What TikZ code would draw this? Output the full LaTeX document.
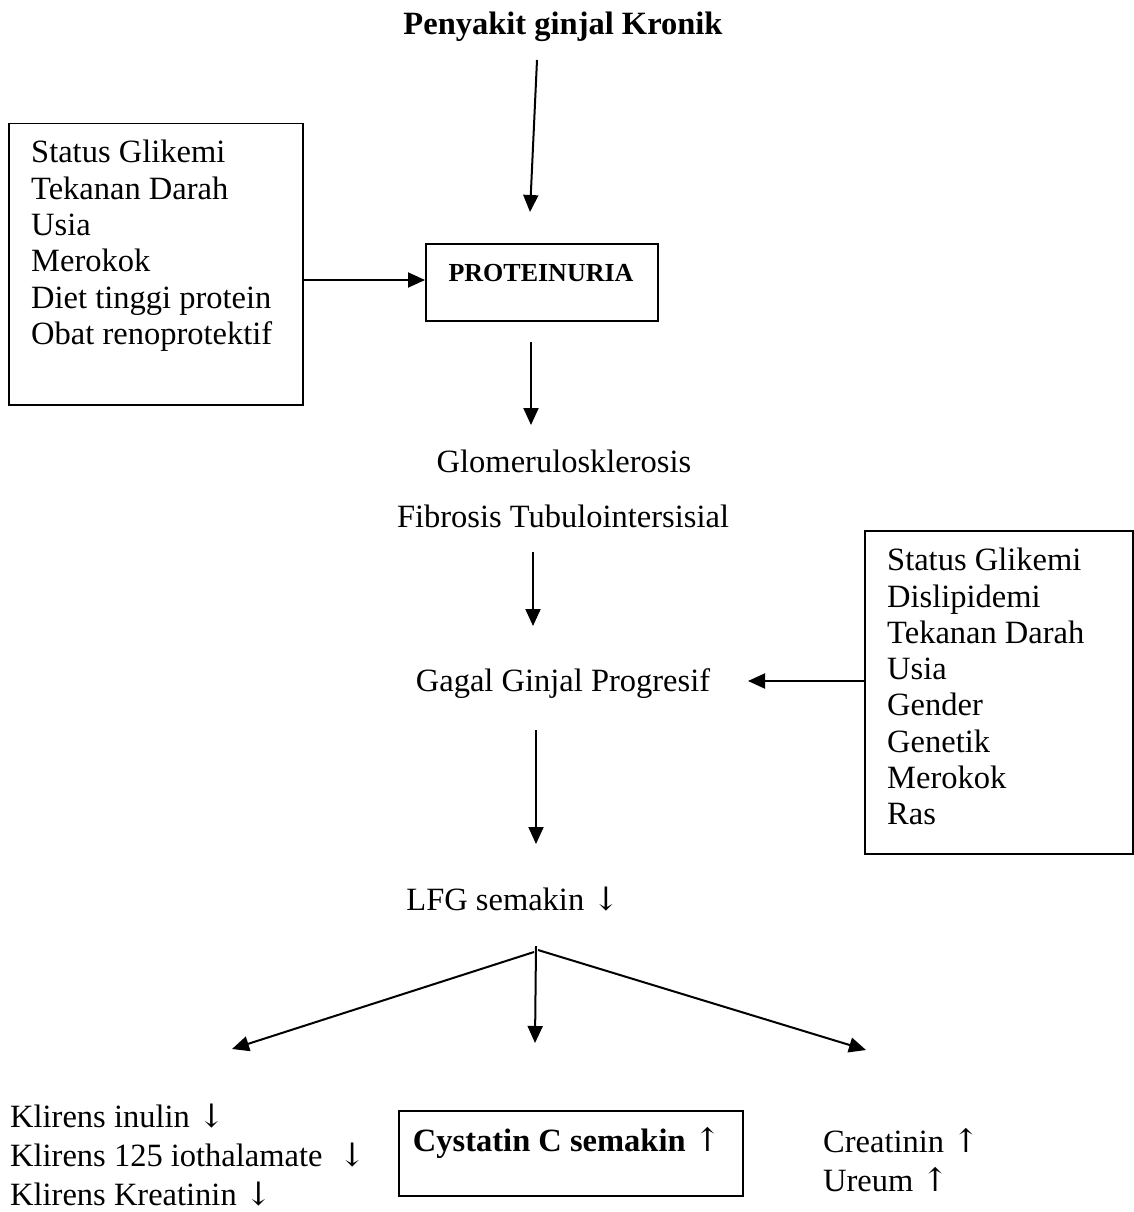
\documentclass[tikz,border=0pt]{standalone}
\usepackage{fontspec}
\setmainfont{Liberation Serif}
\newfontfamily\arrfont{DejaVu Serif}
\newcommand{\dnarr}{{\arrfont\fontseries{m}\selectfont ↓}}
\newcommand{\uparr}{{\arrfont\fontseries{m}\selectfont ↑}}
\usetikzlibrary{arrows.meta}
\begin{document}
\begin{tikzpicture}[x=1pt,y=-1pt,
  txt/.style={inner sep=0pt, font=\fontsize{32.5}{36.4}\selectfont},
  btxt/.style={inner sep=0pt, font=\fontsize{32.5}{36.4}\selectfont\bfseries},
  boxed/.style={draw, line width=1.5pt, inner sep=0pt},
  conn/.style={line width=2pt, -{Triangle[length=17pt,width=15pt]}}
]
\useasboundingbox[fill=white] (0,0) rectangle (1133,1212);

% title
\node[btxt, anchor=base] (title) at (563,35) {Penyakit ginjal Kronik};

% left factor box
\node[boxed, anchor=north west, minimum width=294pt, minimum height=281pt] (lbox) at (8,123) {};
\node[txt, anchor=north west, align=left] (ltext) at (31,140)
  {Status Glikemi\\Tekanan Darah\\Usia\\Merokok\\Diet tinggi protein\\Obat renoprotektif};

% proteinuria
\node[boxed, anchor=north west, minimum width=232pt, minimum height=77pt] (pbox) at (425,243) {};
\node[btxt, anchor=base, font=\fontsize{26}{30}\selectfont\bfseries] (ptext) at (541,281) {PROTEINURIA};

% middle texts
\node[txt, anchor=base] (glom) at (564,472) {Glomerulosklerosis};
\node[txt, anchor=base] (fib) at (563,527) {Fibrosis Tubulointersisial};
\node[txt, anchor=base] (gagal) at (563,691) {Gagal Ginjal Progresif};

% right factor box
\node[boxed, anchor=north west, minimum width=268pt, minimum height=323pt] (rbox) at (864,530) {};
\node[txt, anchor=north west, align=left, font=\fontsize{32.5}{36.3}\selectfont] (rtext) at (887,548)
  {Status Glikemi\\Dislipidemi\\Tekanan Darah\\Usia\\Gender\\Genetik\\Merokok\\Ras};

\node[txt, anchor=base] (lfg) at (513,910) {LFG semakin \dnarr};

% bottom
\node[txt, anchor=north west, align=left, font=\fontsize{32.5}{39}\selectfont] (klir) at (10,1104)
  {Klirens inulin \dnarr\\Klirens 125 iothalamate \ \dnarr\\Klirens Kreatinin \dnarr};
\node[boxed, anchor=north west, minimum width=344pt, minimum height=85pt] (cbox) at (398,1110) {};
\node[btxt, anchor=base] (ctext) at (567,1151) {Cystatin C semakin \uparr};
\node[txt, anchor=north west, align=left, font=\fontsize{32.5}{39}\selectfont] (crea) at (823,1128)
  {Creatinin \uparr\\Ureum \uparr};

% connector ends
\coordinate (a1s) at (537,60);
\coordinate (a1e) at (530,212);
\coordinate (a3s) at (531,342);
\coordinate (a3e) at (531,425);
\coordinate (a4s) at (533,552);
\coordinate (a4e) at (533,626);
\coordinate (a5e) at (748,681);
\coordinate (a6s) at (536,730);
\coordinate (a6e) at (536,844);
\coordinate (br) at (536,946);
\coordinate (brl) at (534,952);
\coordinate (brr) at (538,950);
\coordinate (bl) at (232,1049);
\coordinate (bm) at (535,1043);
\coordinate (bre) at (866,1050);

\draw[conn] (a1s) -- (a1e);
\draw[conn] (lbox.east |- 0,280) -- (pbox.west |- 0,280);
\draw[conn] (a3s) -- (a3e);
\draw[conn] (a4s) -- (a4e);
\draw[conn] (rbox.west |- 0,681) -- (a5e);
\draw[conn] (a6s) -- (a6e);
\draw[conn] (br) -- (bm);
\draw[conn] (brl) -- (bl);
\draw[conn] (brr) -- (bre);
\end{tikzpicture}
\end{document}
